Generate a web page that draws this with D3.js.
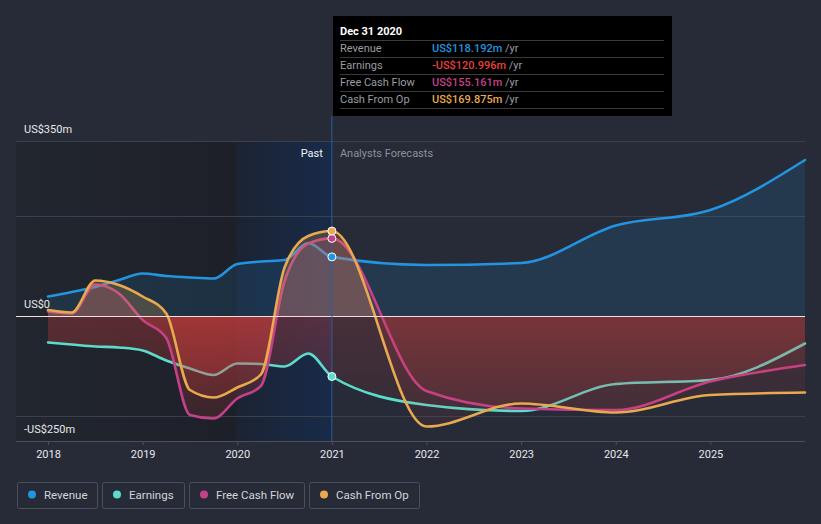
<!DOCTYPE html>
<html>
<head>
<meta charset="utf-8">
<script src="https://cdn.jsdelivr.net/npm/d3@7"></script>
<style>
  html, body { margin: 0; padding: 0; background: #262b37; }
  svg { display: block; font-family: Roboto, "Noto Sans", sans-serif; }
</style>
</head>
<body>
<svg id="chart" width="821" height="524"></svg>
<script>
// ---------- data ----------
const pastDates = [2018, 2018.25, 2018.5, 2018.75, 2019, 2019.25, 2019.5, 2019.75, 2020, 2020.25, 2020.5, 2020.75, 2021];
const forecastDates = [2022, 2023, 2024, 2025, 2026];

const revenuePast = [39, 48, 58, 72, 85, 80, 77, 75, 104, 109, 112, 146, 118.192];
const revenueForecast = [102, 106, 181, 212, 312];

const earningsPast = [-53, -57, -61, -63, -69, -89, -105, -118, -95, -96, -101, -75, -120.996];
const earningsForecast = [-178, -190, -136, -128, -55];

const fcfPast = [9, 5, 63, 45, -8, -44, -198, -205, -165, -140, 70, 145, 155.161];
const fcfForecast = [-150, -185, -188, -131, -98];

const cfoPast = [12, 7, 71, 62, 39, 5, -148, -163, -143, -117, 97, 160, 169.875];
const cfoForecast = [-221, -175, -193, -158, -153];

const seriesNames = ["Revenue", "Earnings", "Free Cash Flow", "Cash From Op"];
const seriesColors = ["#2394df", "#5cdccb", "#c4418a", "#e8a94f"];

const yearTicks = [2018, 2019, 2020, 2021, 2022, 2023, 2024, 2025];
const yLabelValues = [350, 0, -250];
const yLabelTexts = ["US$350m", "US$0", "-US$250m"];
const gridValues = [350, 200, -200];

const tooltipTitle = "Dec 31 2020";
const tooltipValues = ["US$118.192m", "-US$120.996m", "US$155.161m", "US$169.875m"];
const tooltipValueColors = ["#2394df", "#e8413c", "#c4418a", "#e8a94f"];

// ---------- setup ----------
const svg = d3.select("#chart");
const W = 821, H = 524;
const plotLeft = 16, plotRight = 805, plotTop = 141, plotBottom = 441;

const x = d3.scaleLinear().domain([2018, 2026]).range([48, 805]);
const y = d3.scaleLinear().domain([-250, 350]).range([441, 141]);
const nowX = x(2021);

const build = (past, fut) => past.map((v, i) => ({ t: pastDates[i], v }))
  .concat(fut.map((v, i) => ({ t: forecastDates[i], v })));
const series = [
  build(revenuePast, revenueForecast),
  build(earningsPast, earningsForecast),
  build(fcfPast, fcfForecast),
  build(cfoPast, cfoForecast)
];

const defs = svg.append("defs");

// background
svg.append("rect").attr("width", W).attr("height", H).attr("fill", "#262b37");

// past dark region gradient
const gDark = defs.append("linearGradient").attr("id", "gDark")
  .attr("gradientUnits", "userSpaceOnUse")
  .attr("x1", plotLeft).attr("x2", x(2020)).attr("y1", 0).attr("y2", 0);
gDark.append("stop").attr("offset", 0).attr("stop-color", "#22262f");
gDark.append("stop").attr("offset", 1).attr("stop-color", "#1d2028");
svg.append("rect").attr("x", plotLeft).attr("y", plotTop).attr("width", x(2020) - plotLeft)
  .attr("height", plotBottom - plotTop).attr("fill", "url(#gDark)");

// blue highlight region
const gBlue = defs.append("linearGradient").attr("id", "gBlue")
  .attr("gradientUnits", "userSpaceOnUse")
  .attr("x1", x(2020)).attr("x2", nowX).attr("y1", 0).attr("y2", 0);
gBlue.append("stop").attr("offset", 0).attr("stop-color", "#1b2333");
gBlue.append("stop").attr("offset", 1).attr("stop-color", "#182b49");
svg.append("rect").attr("x", x(2020)).attr("y", plotTop).attr("width", nowX - x(2020))
  .attr("height", plotBottom - plotTop).attr("fill", "url(#gBlue)");

// gridlines
svg.append("g").selectAll("line").data(gridValues).join("line")
  .attr("x1", plotLeft).attr("x2", plotRight)
  .attr("y1", d => Math.round(y(d)) + 0.5).attr("y2", d => Math.round(y(d)) + 0.5)
  .attr("stroke", "#3b404b").attr("stroke-width", 1);

// clip paths
defs.append("clipPath").attr("id", "clipPos").append("rect")
  .attr("x", 0).attr("y", 0).attr("width", W).attr("height", y(0));
defs.append("clipPath").attr("id", "clipNegPast").append("rect")
  .attr("x", 0).attr("y", y(0)).attr("width", nowX).attr("height", H);
defs.append("clipPath").attr("id", "clipNegFut").append("rect")
  .attr("x", nowX).attr("y", y(0)).attr("width", W).attr("height", H);

// red gradients
function redGrad(id, a0, a1) {
  const g = defs.append("linearGradient").attr("id", id)
    .attr("gradientUnits", "userSpaceOnUse")
    .attr("x1", 0).attr("x2", 0).attr("y1", y(0)).attr("y2", y(-250));
  g.append("stop").attr("offset", 0).attr("stop-color", "#e3403d").attr("stop-opacity", a0);
  g.append("stop").attr("offset", 1).attr("stop-color", "#e3403d").attr("stop-opacity", a1);
}
redGrad("redPast", 0.3, 0.1);
redGrad("redFut", 0.17, 0.05);

const curve = d3.curveMonotoneX;
const area = d3.area().x(d => x(d.t)).y0(y(0)).y1(d => y(d.v)).curve(curve);
const line = d3.line().x(d => x(d.t)).y(d => y(d.v)).curve(curve);

const posOpacity = [0.14, 0.2, 0.22, 0.22];

series.forEach((data, i) => {
  const g = svg.append("g");
  g.append("path").attr("d", area(data)).attr("clip-path", "url(#clipPos)")
    .attr("fill", seriesColors[i]).attr("fill-opacity", posOpacity[i]);
  g.append("path").attr("d", area(data)).attr("clip-path", "url(#clipNegPast)")
    .attr("fill", "url(#redPast)");
  g.append("path").attr("d", area(data)).attr("clip-path", "url(#clipNegFut)")
    .attr("fill", "url(#redFut)");
  g.append("path").attr("d", line(data)).attr("fill", "none")
    .attr("stroke", seriesColors[i]).attr("stroke-width", 2.6)
    .attr("stroke-linejoin", "round").attr("stroke-linecap", "round");
});

// zero line
svg.append("line").attr("x1", plotLeft).attr("x2", plotRight)
  .attr("y1", Math.round(y(0)) + 0.5).attr("y2", Math.round(y(0)) + 0.5)
  .attr("stroke", "#f2dede").attr("stroke-width", 1.2);

// now line
svg.append("line").attr("x1", nowX).attr("x2", nowX).attr("y1", 116).attr("y2", plotBottom)
  .attr("stroke", "#2d5da0").attr("stroke-width", 1);

// x axis
const xAxis = d3.axisBottom(x).tickValues(yearTicks).tickFormat(d3.format("d")).tickSize(4).tickSizeOuter(0);
const gx = svg.append("g").attr("transform", `translate(0,${plotBottom})`).call(xAxis);
gx.select(".domain").remove();
gx.selectAll(".tick line").attr("stroke", "#4b515c");
gx.selectAll(".tick text").attr("fill", "#e6e8eb").attr("font-size", 11).attr("dy", "0.95em")
  .attr("font-family", "Roboto, sans-serif");
svg.append("line").attr("x1", plotLeft).attr("x2", plotRight)
  .attr("y1", plotBottom + 0.5).attr("y2", plotBottom + 0.5)
  .attr("stroke", "#4b515c").attr("stroke-width", 1);

// y labels
svg.append("g").selectAll("text").data(yLabelValues).join("text")
  .attr("x", 24)
  .attr("y", d => y(d) - 8)
  .attr("fill", "#e6e8eb").attr("font-size", 11)
  .text((d, i) => yLabelTexts[i]);

// Past / Analysts Forecasts
svg.append("text").attr("x", nowX - 9).attr("y", 157).attr("text-anchor", "end")
  .attr("fill", "#f0f2f5").attr("font-size", 11).text("Past");
svg.append("text").attr("x", nowX + 8).attr("y", 157)
  .attr("fill", "#8b909a").attr("font-size", 11).text("Analysts Forecasts");

// highlight dots
const dotOrder = [1, 0, 2, 3];
dotOrder.forEach(i => {
  const p = series[i].find(d => d.t === 2021);
  svg.append("circle").attr("cx", x(p.t)).attr("cy", y(p.v)).attr("r", 4)
    .attr("fill", seriesColors[i]).attr("stroke", "#ffffff").attr("stroke-width", 1);
});

// tooltip
const tip = svg.append("g");
tip.append("rect").attr("x", 333).attr("y", 16).attr("width", 339).attr("height", 100).attr("fill", "#000000");
tip.append("text").attr("x", 340).attr("y", 35).attr("fill", "#ffffff")
  .attr("font-size", 11).attr("font-weight", "bold").text(tooltipTitle);
[40, 57, 74, 91, 108].forEach(yy => {
  tip.append("line").attr("x1", 340).attr("x2", 664).attr("y1", yy + 0.5).attr("y2", yy + 0.5)
    .attr("stroke", "#3a3a3a").attr("stroke-width", 1);
});
seriesNames.forEach((n, i) => {
  const by = 52 + i * 17;
  tip.append("text").attr("x", 340).attr("y", by).attr("fill", "#9a9ca0").attr("font-size", 11).text(n);
  const t = tip.append("text").attr("x", 432).attr("y", by).attr("font-size", 11);
  t.append("tspan").attr("fill", tooltipValueColors[i]).attr("font-weight", 500).text(tooltipValues[i]);
  t.append("tspan").attr("fill", "#9a9ca0").text(" /yr");
});

// legend
const legendX = [17, 102, 189, 309];
const legendW = [80, 82, 115, 110];
const lg = svg.append("g");
seriesNames.forEach((n, i) => {
  const g = lg.append("g").attr("transform", `translate(${legendX[i]},482)`);
  g.append("rect").attr("x", 0.5).attr("y", 0.5).attr("width", legendW[i]).attr("height", 26)
    .attr("rx", 2).attr("fill", "none").attr("stroke", "#4a505b");
  g.append("circle").attr("cx", 15).attr("cy", 12.5).attr("r", 4).attr("fill", seriesColors[i]);
  g.append("text").attr("x", 27).attr("y", 16.5).attr("fill", "#d2d5da").attr("font-size", 11.5).text(n);
});
</script>
</body>
</html>
